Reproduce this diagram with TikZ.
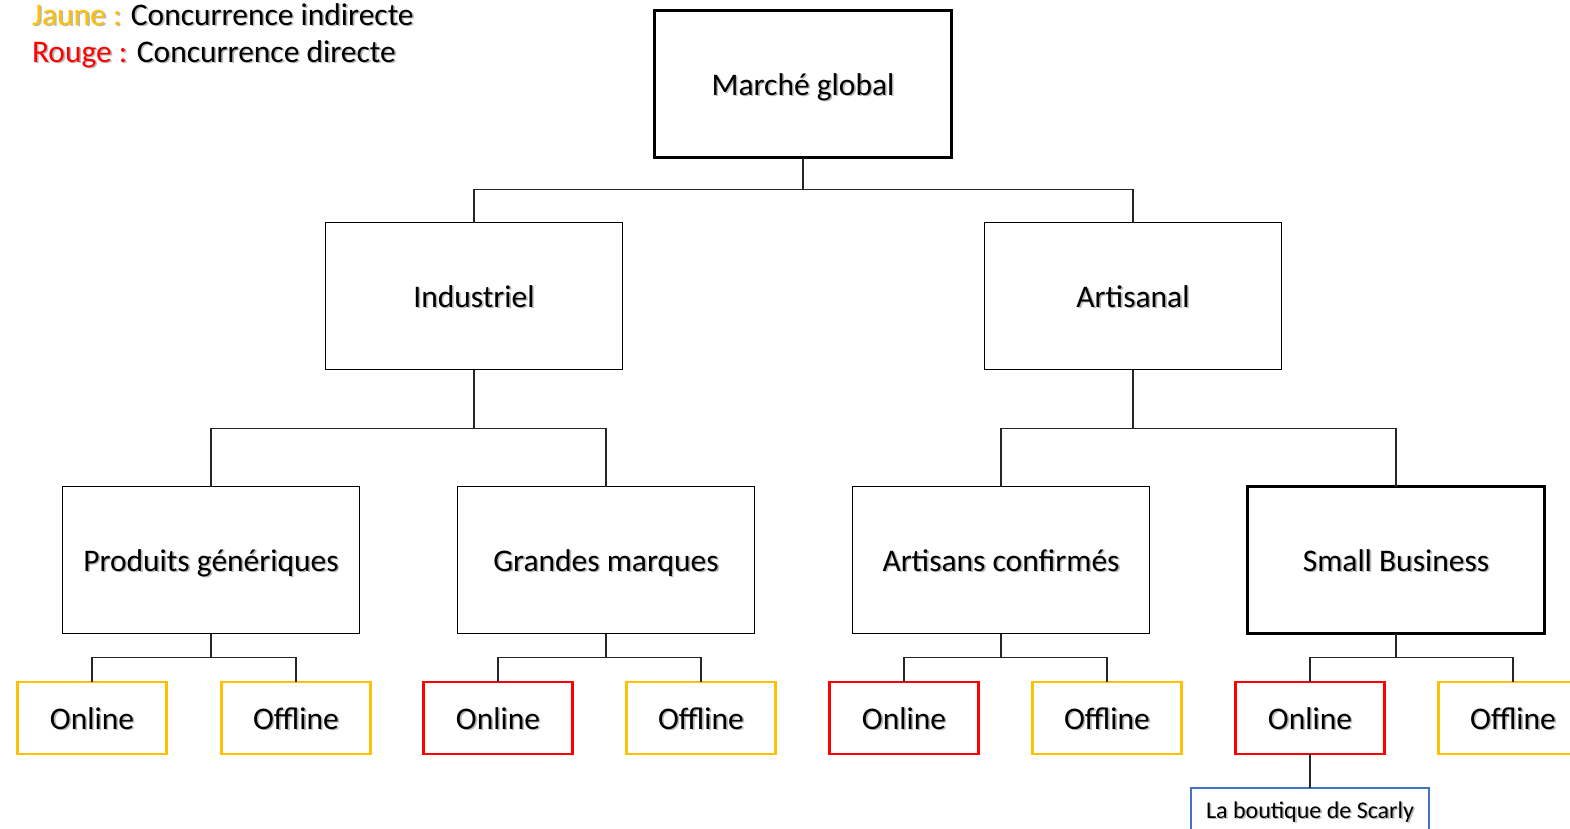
\documentclass[tikz,border=0pt]{standalone}
\usepackage{fontspec}
\setmainfont{Carlito}
\definecolor{cyel}{HTML}{FFC000}
\definecolor{cred}{HTML}{FF0000}
\definecolor{cblue}{HTML}{4472C4}
\newif\ifshadowcopy
\newcommand{\lc}[2]{\ifshadowcopy#2\else\textcolor{#1}{#2}\fi}
\newcommand{\shtxt}[1]{\makebox[0pt][l]{\hspace{1.6pt}\raisebox{-1.6pt}{\shadowcopytrue\textcolor{black!28}{#1}}}#1}
\begin{document}
\begin{tikzpicture}[x=1pt,y=-1pt,
  every node/.style={inner sep=0pt, outer sep=0pt},
  bigbox/.style={draw=black, line width=1.3pt, minimum width=297pt, minimum height=147pt, text height=22pt, text depth=0pt, font=\fontsize{31.5}{36}\selectfont},
  thickbox/.style={bigbox, line width=3pt},
  leafbox/.style={line width=2.4pt, minimum width=149pt, minimum height=72pt, text height=22pt, text depth=0pt, font=\fontsize{31.5}{36}\selectfont},
  yel/.style={leafbox, draw=cyel},
  redb/.style={leafbox, draw=cred},
  conn/.style={draw=black!85, line width=1.3pt},
  legend/.style={anchor=base west, font=\fontsize{31.5}{36}\selectfont}
]
\useasboundingbox (0,0) rectangle (1570,828);
\clip (0,0) rectangle (1570,828);
\fill[white] (0,0) rectangle (1570,828);

% legend
\node[legend] (l1) at (32,25) {\shtxt{\lc{cyel}{Jaune :} Concurrence indirecte}};
\node[legend] (l2) at (32,62) {\shtxt{\lc{cred}{Rouge :} Concurrence directe}};

% level 0
\node[thickbox] (mg) at (803,84) {\shtxt{Marché global}};
% level 1
\node[bigbox] (ind) at (474,296) {\shtxt{Industriel}};
\node[bigbox] (art) at (1133,296) {\shtxt{Artisanal}};
% level 2
\node[bigbox] (pg) at (211,560) {\shtxt{Produits génériques}};
\node[bigbox] (gm) at (606,560) {\shtxt{Grandes marques}};
\node[bigbox] (ac) at (1001,560) {\shtxt{Artisans confirmés}};
\node[thickbox] (sb) at (1396,560) {\shtxt{Small Business}};
% level 3
\node[yel] (on1) at (92,718) {\shtxt{Online}};
\node[yel] (of1) at (296,718) {\shtxt{Offline}};
\node[redb] (on2) at (498,718) {\shtxt{Online}};
\node[yel] (of2) at (701,718) {\shtxt{Offline}};
\node[redb] (on3) at (904,718) {\shtxt{Online}};
\node[yel] (of3) at (1107,718) {\shtxt{Offline}};
\node[redb] (on4) at (1310,718) {\shtxt{Online}};
\node[yel] (of4) at (1513,718) {\shtxt{Offline}};
% level 4
\node[draw=cblue, line width=2pt, minimum width=238pt, minimum height=60pt, anchor=north] (lb) at (1310,788) {};
\node[anchor=base, font=\fontsize{24}{28}\selectfont] (lbt) at (1310,818) {\shtxt{La boutique de Scarly}};

% connectors
\draw[conn] (mg.south) -- ++(0,32) -| (ind.north);
\draw[conn] (mg.south) ++(0,32) -| (art.north);
\draw[conn] (ind.south) -- ++(0,59) -| (pg.north);
\draw[conn] (ind.south) ++(0,59) -| (gm.north);
\draw[conn] (art.south) -- ++(0,59) -| (ac.north);
\draw[conn] (art.south) ++(0,59) -| (sb.north);
\draw[conn] (pg.south) -- ++(0,24) -| (on1.north);
\draw[conn] (pg.south) ++(0,24) -| (of1.north);
\draw[conn] (gm.south) -- ++(0,24) -| (on2.north);
\draw[conn] (gm.south) ++(0,24) -| (of2.north);
\draw[conn] (ac.south) -- ++(0,24) -| (on3.north);
\draw[conn] (ac.south) ++(0,24) -| (of3.north);
\draw[conn] (sb.south) -- ++(0,24) -| (on4.north);
\draw[conn] (sb.south) ++(0,24) -| (of4.north);
\draw[conn] (on4.south) -- (lb.north);
\end{tikzpicture}
\end{document}
